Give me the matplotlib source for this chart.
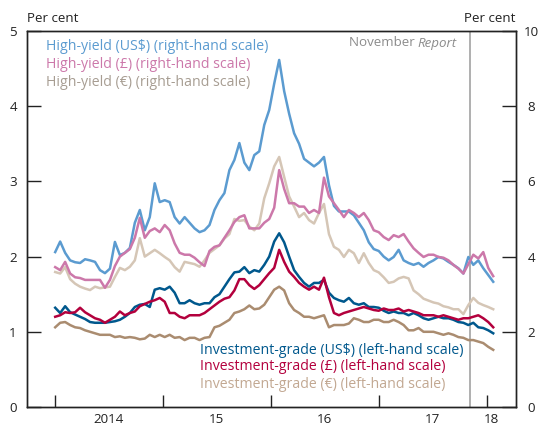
import matplotlib
matplotlib.use("Agg")
import matplotlib.pyplot as plt
import matplotlib.dates as mdates
import pandas as pd
import numpy as np

plt.rcParams['font.family'] = ['Open Sans', 'DejaVu Sans']

# ---------------- data ----------------
dates = pd.date_range('2014-01-01', '2018-01-21', periods=89)

hy_usd = [4.12, 4.40, 4.10, 3.90, 3.85, 3.83, 3.93, 3.90, 3.86, 3.64,
          3.56, 3.68, 4.39, 4.04, 4.10, 4.23, 4.90, 5.24, 4.70, 5.05,
          5.95, 5.45, 5.50, 5.45, 5.05, 4.88, 5.05, 4.90, 4.75, 4.65,
          4.70, 4.84, 5.24, 5.50, 5.69, 6.30, 6.57, 7.02, 6.50, 6.30,
          6.70, 6.80, 7.50, 7.90, 8.60, 9.23, 8.40, 7.80, 7.28, 7.00,
          6.60, 6.50, 6.40, 6.50, 6.65, 5.90, 5.35, 5.20, 5.20, 5.20,
          5.10, 4.90, 4.70, 4.38, 4.20, 4.15, 4.00, 3.90, 3.99, 4.18,
          3.90, 3.83, 3.78, 3.83, 3.73, 3.83, 3.90, 3.99, 3.95, 3.86,
          3.78, 3.69, 3.55, 3.99, 3.78, 3.90, 3.69, 3.51, 3.33]

hy_gbp = [3.72, 3.64, 3.86, 3.55, 3.45, 3.43, 3.38, 3.38, 3.38, 3.38,
          3.17, 3.38, 3.75, 4.00, 4.10, 4.20, 4.50, 5.03, 4.50, 4.68,
          4.75, 4.65, 4.84, 4.70, 4.35, 4.10, 4.05, 4.05, 3.97, 3.85,
          3.75, 4.15, 4.26, 4.30, 4.50, 4.70, 4.92, 5.05, 5.10, 4.75,
          4.75, 4.75, 4.90, 5.00, 5.30, 6.30, 5.80, 5.42, 5.42, 5.33,
          5.33, 5.16, 5.24, 5.16, 6.10, 5.60, 5.42, 5.24, 5.05, 5.24,
          5.16, 5.05, 5.16, 4.97, 4.70, 4.65, 4.52, 4.44, 4.57, 4.52,
          4.60, 4.40, 4.22, 4.10, 3.99, 4.05, 4.05, 3.99, 3.97, 3.90,
          3.78, 3.68, 3.55, 3.80, 4.05, 3.95, 4.12, 3.70, 3.48]

hy_eur = [3.59, 3.55, 3.72, 3.40, 3.28, 3.20, 3.15, 3.11, 3.20, 3.16,
          3.18, 3.20, 3.46, 3.70, 3.64, 3.73, 3.90, 4.49, 4.00, 4.09,
          4.18, 4.09, 3.99, 3.90, 3.72, 3.60, 3.86, 3.83, 3.80, 3.73,
          3.90, 4.10, 4.20, 4.30, 4.48, 4.60, 5.00, 4.95, 4.97, 4.80,
          4.70, 4.88, 5.55, 5.95, 6.40, 6.65, 6.12, 5.60, 5.33, 5.05,
          5.16, 4.97, 4.88, 5.16, 5.40, 4.60, 4.26, 4.18, 3.99, 4.18,
          4.09, 3.83, 4.09, 3.83, 3.64, 3.58, 3.45, 3.30, 3.33, 3.42,
          3.46, 3.42, 3.10, 3.00, 2.88, 2.83, 2.78, 2.75, 2.68, 2.65,
          2.60, 2.60, 2.47, 2.71, 2.90, 2.77, 2.71, 2.66, 2.60]

ig_usd = [1.32, 1.25, 1.34, 1.26, 1.23, 1.20, 1.17, 1.13, 1.12, 1.12,
          1.12, 1.13, 1.14, 1.16, 1.20, 1.25, 1.33, 1.36, 1.37, 1.33,
          1.56, 1.58, 1.56, 1.60, 1.52, 1.38, 1.38, 1.42, 1.38, 1.36,
          1.38, 1.38, 1.46, 1.50, 1.60, 1.70, 1.79, 1.80, 1.86, 1.78,
          1.82, 1.80, 1.89, 2.00, 2.20, 2.31, 2.19, 2.00, 1.82, 1.73,
          1.65, 1.60, 1.65, 1.65, 1.69, 1.52, 1.45, 1.42, 1.40, 1.45,
          1.38, 1.36, 1.38, 1.33, 1.33, 1.32, 1.28, 1.25, 1.27, 1.25,
          1.25, 1.22, 1.25, 1.22, 1.18, 1.16, 1.18, 1.20, 1.18, 1.18,
          1.16, 1.13, 1.12, 1.09, 1.12, 1.06, 1.05, 1.02, 0.98]

ig_gbp = [1.20, 1.22, 1.26, 1.25, 1.26, 1.32, 1.26, 1.22, 1.18, 1.16,
          1.12, 1.16, 1.20, 1.27, 1.22, 1.25, 1.27, 1.34, 1.37, 1.40,
          1.42, 1.45, 1.40, 1.25, 1.25, 1.20, 1.18, 1.22, 1.22, 1.22,
          1.25, 1.30, 1.35, 1.40, 1.44, 1.46, 1.55, 1.70, 1.70, 1.62,
          1.57, 1.62, 1.70, 1.78, 1.85, 2.09, 1.93, 1.80, 1.73, 1.65,
          1.60, 1.56, 1.60, 1.56, 1.72, 1.46, 1.25, 1.22, 1.25, 1.27,
          1.29, 1.31, 1.33, 1.31, 1.29, 1.28, 1.31, 1.29, 1.29, 1.31,
          1.27, 1.29, 1.27, 1.25, 1.22, 1.22, 1.22, 1.20, 1.22, 1.20,
          1.18, 1.16, 1.18, 1.18, 1.20, 1.22, 1.18, 1.13, 1.06]

ig_eur = [1.06, 1.12, 1.13, 1.09, 1.06, 1.05, 1.02, 1.00, 0.98, 0.96,
          0.96, 0.96, 0.93, 0.94, 0.92, 0.93, 0.92, 0.90, 0.91, 0.96,
          0.93, 0.96, 0.93, 0.96, 0.92, 0.93, 0.89, 0.92, 0.92, 0.89,
          0.92, 0.93, 1.06, 1.08, 1.12, 1.16, 1.25, 1.27, 1.30, 1.35,
          1.30, 1.31, 1.36, 1.46, 1.56, 1.60, 1.55, 1.38, 1.29, 1.25,
          1.20, 1.20, 1.18, 1.20, 1.22, 1.06, 1.09, 1.09, 1.09, 1.11,
          1.18, 1.16, 1.13, 1.13, 1.16, 1.16, 1.13, 1.13, 1.16, 1.13,
          1.09, 1.02, 1.02, 1.05, 1.00, 1.00, 1.00, 0.98, 0.96, 0.98,
          0.96, 0.93, 0.92, 0.89, 0.89, 0.87, 0.85, 0.80, 0.76]

hy_labels = ['High-yield (US$) (right-hand scale)',
             'High-yield (£) (right-hand scale)',
             'High-yield (€) (right-hand scale)']
ig_labels = ['Investment-grade (US$) (left-hand scale)',
             'Investment-grade (£) (left-hand scale)',
             'Investment-grade (€) (left-hand scale)']
year_labels = ['2014', '15', '16', '17', '18']
report_date = pd.Timestamp('2017-11-02')

# ---------------- style ----------------
c_hy_usd = '#5b9bd0'
c_hy_gbp = '#cc78aa'
c_hy_eur = '#d5c6b6'
c_ig_usd = '#00588d'
c_ig_gbp = '#b3003d'
c_ig_eur = '#aa8c70'
t_hy_eur = '#a79d92'
t_ig_eur = '#c2a892'

W, H = 541, 428
fig = plt.figure(figsize=(W / 100, H / 100), dpi=100)
L, R, B, T = 26.5, 516, 407, 31
ax = fig.add_axes([L / W, 1 - B / H, (R - L) / W, (B - T) / H])
ax2 = ax.twinx()

lw = 1.8
ax2.plot(dates, hy_eur, color=c_hy_eur, lw=lw, zorder=2)
ax2.plot(dates, hy_usd, color=c_hy_usd, lw=lw, zorder=3)
ax2.plot(dates, hy_gbp, color=c_hy_gbp, lw=lw, zorder=4)
ax.plot(dates, ig_eur, color=c_ig_eur, lw=lw, zorder=2)
ax.plot(dates, ig_usd, color=c_ig_usd, lw=lw, zorder=3)
ax.plot(dates, ig_gbp, color=c_ig_gbp, lw=lw, zorder=4)

ax.axvline(report_date, color='#9a9a9a', lw=1.1, zorder=1)

x0 = pd.Timestamp('2013-09-26')
x1 = pd.Timestamp('2018-04-08')
ax.set_xlim(x0, x1)
ax.set_ylim(0, 5)
ax2.set_ylim(0, 10)

fs = 9.6
lfs = 10.2
tc = '#222222'
ax.xaxis.set_major_locator(mdates.YearLocator())
ax.xaxis.set_major_formatter(plt.NullFormatter())
lab_pos = [pd.Timestamp('2014-07-01'), pd.Timestamp('2015-07-01'),
           pd.Timestamp('2016-07-01'), pd.Timestamp('2017-07-01'),
           pd.Timestamp('2018-01-14')]
ax.set_xticks(mdates.date2num(lab_pos), minor=True)
ax.set_xticklabels(year_labels, minor=True)
ax.tick_params(axis='x', which='major', direction='in', length=9, width=1.0,
               color='#222222', top=False)
ax.tick_params(axis='x', which='minor', length=0, pad=4, labelsize=fs,
               labelcolor=tc, top=False)

ax.set_yticks([0, 1, 2, 3, 4, 5])
ax.tick_params(axis='y', direction='in', length=10, width=1.0, pad=7,
               labelsize=fs, labelcolor=tc, color='#222222', right=False)
ax2.set_yticks([0, 2, 4, 6, 8, 10])
ax2.tick_params(axis='y', direction='in', length=10, width=1.0, pad=11,
                labelsize=fs, labelcolor=tc, color='#222222')
for lab in ax2.get_yticklabels():
    lab.set_horizontalalignment('center')

for a in (ax, ax2):
    for s in a.spines.values():
        s.set_color('#222222')
        s.set_linewidth(1.0)

def px(x, y):
    return (x / W, 1 - y / H)

fig.text(*px(27, 18), 'Per cent', fontsize=fs, color=tc, ha='left', va='center')
fig.text(*px(R, 18), 'Per cent', fontsize=fs, color=tc, ha='right', va='center')

for lab, col, yy in zip(hy_labels, [c_hy_usd, c_hy_gbp, t_hy_eur], [46, 64, 82]):
    fig.text(*px(46, yy), lab, fontsize=lfs, color=col, ha='left', va='center')
for lab, col, yy in zip(ig_labels, [c_ig_usd, c_ig_gbp, t_ig_eur], [350, 367, 384]):
    fig.text(*px(200, yy), lab, fontsize=lfs, color=col, ha='left', va='center')

# November Report label
fig.canvas.draw()
rtxt = fig.text(*px(457, 43), 'Report', fontsize=fs, color='#8c8c8c',
                ha='right', va='center', style='italic')
fig.canvas.draw()
bb = rtxt.get_window_extent()
fig.text(bb.x0 / W, 1 - 43 / H, 'November ', fontsize=fs, color='#8c8c8c',
         ha='right', va='center')

fig.savefig('out.png', dpi=100)
